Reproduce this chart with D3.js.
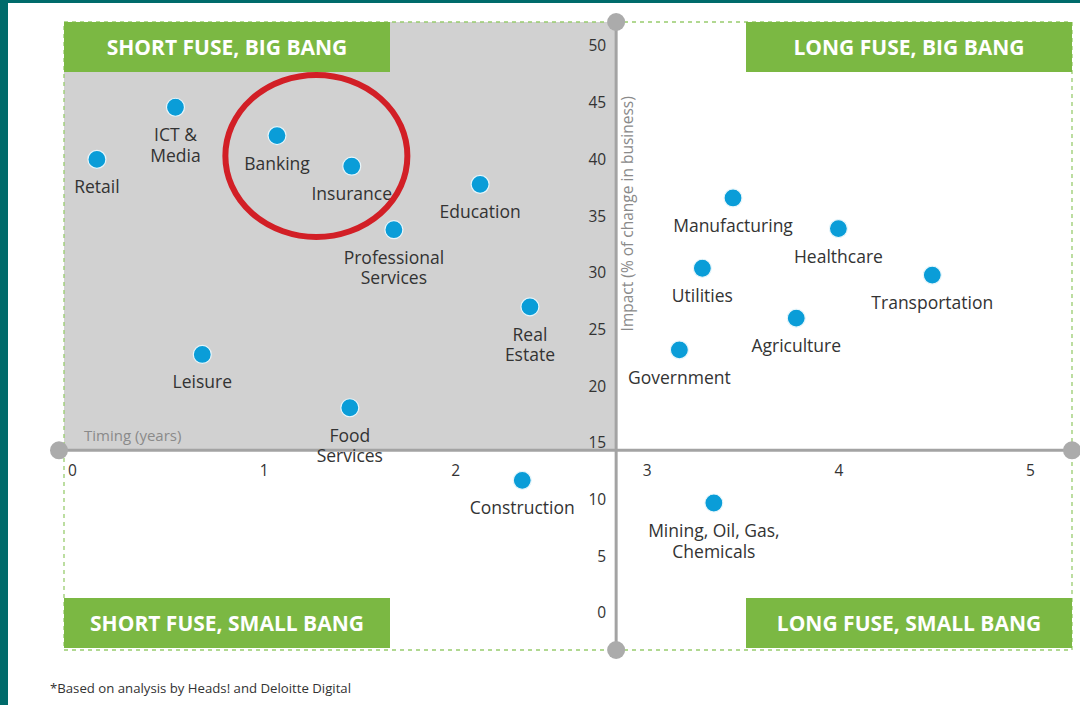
<!DOCTYPE html>
<html>
<head>
<meta charset="utf-8">
<script src="https://cdn.jsdelivr.net/npm/d3@7"></script>
<style>
  html, body { margin: 0; padding: 0; background: #fff; }
  svg { display: block; }
</style>
</head>
<body>
<script>
// Data
const sectors = ["Retail", "ICT & Media", "Banking", "Insurance", "Education",
    "Professional Services", "Real Estate", "Leisure", "Food Services", "Construction",
    "Manufacturing", "Healthcare", "Transportation", "Utilities", "Agriculture",
    "Government", "Mining, Oil, Gas, Chemicals"];
// label line breaks, same order as sectors
const labelLines = [["Retail"], ["ICT &", "Media"], ["Banking"], ["Insurance"], ["Education"],
    ["Professional", "Services"], ["Real", "Estate"], ["Leisure"], ["Food", "Services"], ["Construction"],
    ["Manufacturing"], ["Healthcare"], ["Transportation"], ["Utilities"], ["Agriculture"],
    ["Government"], ["Mining, Oil, Gas,", "Chemicals"]];
const timing = [0.13, 0.54, 1.07, 1.46, 2.13, 1.68, 2.39, 0.68, 1.45, 2.35,
    3.45, 4.0, 4.49, 3.29, 3.78, 3.17, 3.35];
const impact = [40.0, 44.6, 42.1, 39.4, 37.8, 33.8, 27.0, 22.8, 18.1, 11.7,
    36.6, 33.9, 29.8, 30.4, 26.0, 23.2, 9.7];
const xTicks = [0, 1, 2, 3, 4, 5];
const yTicks = [0, 5, 10, 15, 20, 25, 30, 35, 40, 45, 50];
const quadrants = ["SHORT FUSE, BIG BANG", "LONG FUSE, BIG BANG",
    "SHORT FUSE, SMALL BANG", "LONG FUSE, SMALL BANG"];
const xCross = 2.84;   // timing where the vertical axis sits
const yCross = 14.35;  // impact where the horizontal axis sits
const highlighted = ["Banking", "Insurance"];
const footnote = "*Based on analysis by Heads! and Deloitte Digital";

// Layout
const W = 1080, H = 705;
const frame = {left: 64, right: 1072, top: 22, bottom: 650};
const boxW = 326, boxH = 50;
const green = "#7bb843", teal = "#006b6b", axisGrey = "#a3a3a3";
const font = "'Open Sans', 'Noto Sans', sans-serif";

const x = d3.scaleLinear().domain([0, 5]).range([72, 1030]);
const y = d3.scaleLinear().domain([0, 50]).range([613, 46]);

const svg = d3.select("body").append("svg")
    .attr("width", W)
    .attr("height", H)
    .style("font-family", font);

// teal page edges
svg.append("rect").attr("x", 0).attr("y", 0).attr("width", W).attr("height", 3).attr("fill", teal);
svg.append("rect").attr("x", 0).attr("y", 0).attr("width", 8).attr("height", H).attr("fill", teal);

const ax = x(xCross), ay = y(yCross);

// grey "short fuse, big bang" quadrant
svg.append("rect")
    .attr("x", frame.left).attr("y", frame.top)
    .attr("width", ax - frame.left).attr("height", ay - frame.top)
    .attr("fill", "#d1d1d1");

// dashed outer frame
svg.append("rect")
    .attr("x", frame.left).attr("y", frame.top)
    .attr("width", frame.right - frame.left).attr("height", frame.bottom - frame.top)
    .attr("fill", "none")
    .attr("stroke", "#98cc6e")
    .attr("stroke-width", 1.3)
    .attr("stroke-dasharray", "4,4");

// quadrant title boxes
const boxPos = [
    [frame.left, frame.top], [frame.right - boxW, frame.top],
    [frame.left, frame.bottom - boxH], [frame.right - boxW, frame.bottom - boxH]
];
const qg = svg.selectAll("g.quad").data(quadrants).join("g")
    .attr("class", "quad")
    .attr("transform", (d, i) => `translate(${boxPos[i][0]},${boxPos[i][1] - (i > 1 ? 2 : 0)})`);
qg.append("rect")
    .attr("width", boxW).attr("height", boxH)
    .attr("fill", green);
qg.append("text")
    .attr("x", boxW / 2).attr("y", boxH / 2 + 7.5)
    .attr("text-anchor", "middle")
    .attr("fill", "#fff")
    .style("font-size", "21px")
    .style("font-weight", "bold")
    .text(d => d);

// axes lines
svg.append("line")
    .attr("x1", frame.left).attr("x2", frame.right)
    .attr("y1", ay).attr("y2", ay)
    .attr("stroke", axisGrey).attr("stroke-width", 3);
svg.append("line")
    .attr("x1", ax).attr("x2", ax)
    .attr("y1", frame.top).attr("y2", frame.bottom)
    .attr("stroke", axisGrey).attr("stroke-width", 3);
const ends = [[frame.left - 5, ay], [frame.right, ay], [ax, frame.top], [ax, frame.bottom]];
svg.selectAll("circle.end").data(ends).join("circle")
    .attr("class", "end")
    .attr("cx", d => d[0]).attr("cy", d => d[1])
    .attr("r", 9)
    .attr("fill", "#ababab");

// tick labels via d3 axes
const xAxis = svg.append("g")
    .attr("transform", `translate(0,${ay})`)
    .call(d3.axisBottom(x).tickValues(xTicks).tickSize(0).tickPadding(15).tickFormat(d3.format("d")));
const yAxis = svg.append("g")
    .attr("transform", `translate(${ax},0)`)
    .call(d3.axisLeft(y).tickValues(yTicks).tickSize(0).tickPadding(10).tickFormat(d3.format("d")));
[xAxis, yAxis].forEach(g => {
    g.select(".domain").remove();
    g.selectAll("text")
        .style("font-family", font)
        .style("font-size", "15.5px")
        .attr("fill", "#333");
});

// axis titles
svg.append("text")
    .attr("x", 84).attr("y", ay - 9)
    .attr("fill", "#8a8a8a")
    .style("font-size", "15px")
    .text("Timing (years)");
svg.append("text")
    .attr("transform", `translate(${ax + 17},${y(35.2)}) rotate(-90)`)
    .attr("text-anchor", "middle")
    .attr("fill", "#8a8a8a")
    .style("font-size", "15.5px")
    .text("Impact  (% of change in business)");

// sector points
const pts = sectors.map((s, i) => ({name: s, lines: labelLines[i], t: timing[i], v: impact[i]}));
const pg = svg.selectAll("g.pt").data(pts).join("g")
    .attr("class", "pt")
    .attr("transform", d => `translate(${x(d.t)},${y(d.v)})`);
pg.append("circle")
    .attr("r", 9)
    .attr("fill", "#0a9dd8")
    .attr("stroke", "#e8f6fb")
    .attr("stroke-width", 1.2);
pg.append("text")
    .attr("text-anchor", "middle")
    .attr("fill", "#333")
    .style("font-size", "17.5px")
    .selectAll("tspan").data(d => d.lines).join("tspan")
    .attr("x", 0)
    .attr("y", (d, i) => 34 + i * 20.5)
    .text(d => d);

// red highlight ring around banking & insurance
const hl = pts.filter(d => highlighted.includes(d.name));
const hx = d3.mean(hl, d => x(d.t)), hy = d3.mean(hl, d => y(d.v));
svg.append("ellipse")
    .attr("cx", hx + 2).attr("cy", hy + 5)
    .attr("rx", 91).attr("ry", 81)
    .attr("fill", "none")
    .attr("stroke", "#d21f26")
    .attr("stroke-width", 6);

// footnote
svg.append("text")
    .attr("x", 50).attr("y", 693)
    .attr("fill", "#333")
    .style("font-size", "13.2px")
    .text(footnote);
</script>
</body>
</html>
